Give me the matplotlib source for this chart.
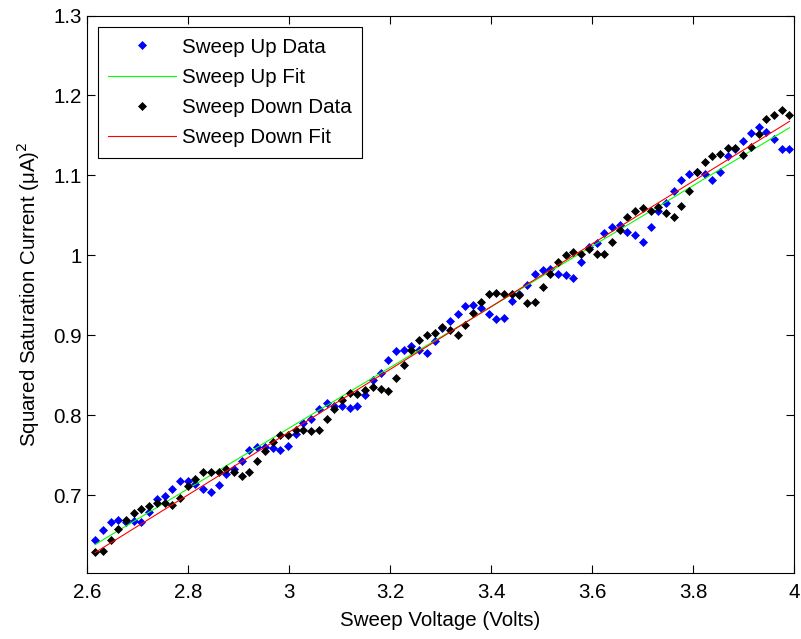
import numpy as np
import matplotlib
matplotlib.use("Agg")
import matplotlib.pyplot as plt
from matplotlib.ticker import FuncFormatter

# sweep voltage: evenly stepped sweep, same points going up and down
v_start = 2.616
v_stop = 3.991
n_points = 91
voltage = np.linspace(v_start, v_stop, n_points)

# squared saturation current (uA^2)
sweep_up = [
    0.644, 0.656, 0.666, 0.669, 0.666, 0.667, 0.666, 0.679, 0.695, 0.699,
    0.707, 0.717, 0.717, 0.714, 0.708, 0.704, 0.712, 0.726, 0.733, 0.742,
    0.756, 0.760, 0.760, 0.759, 0.757, 0.761, 0.777, 0.790, 0.795, 0.808,
    0.815, 0.811, 0.811, 0.809, 0.811, 0.825, 0.844, 0.853, 0.869, 0.880,
    0.882, 0.886, 0.882, 0.878, 0.893, 0.909, 0.918, 0.926, 0.936, 0.938,
    0.934, 0.926, 0.920, 0.922, 0.943, 0.952, 0.963, 0.977, 0.981, 0.983,
    0.977, 0.975, 0.972, 0.992, 1.011, 1.015, 1.028, 1.036, 1.038, 1.029,
    1.026, 1.017, 1.036, 1.055, 1.066, 1.080, 1.094, 1.102, 1.104, 1.102,
    1.094, 1.104, 1.124, 1.133, 1.143, 1.153, 1.160, 1.154, 1.145, 1.133,
    1.133,
]

sweep_down = [
    0.629, 0.630, 0.644, 0.657, 0.669, 0.678, 0.682, 0.686, 0.690, 0.690,
    0.687, 0.696, 0.711, 0.720, 0.729, 0.729, 0.729, 0.733, 0.729, 0.724,
    0.729, 0.743, 0.755, 0.767, 0.775, 0.775, 0.782, 0.782, 0.780, 0.781,
    0.795, 0.808, 0.819, 0.828, 0.827, 0.831, 0.835, 0.833, 0.830, 0.846,
    0.863, 0.882, 0.894, 0.900, 0.903, 0.910, 0.907, 0.900, 0.913, 0.928,
    0.942, 0.951, 0.953, 0.952, 0.952, 0.950, 0.940, 0.942, 0.960, 0.976,
    0.991, 1.000, 1.004, 1.001, 1.008, 1.001, 1.001, 1.017, 1.032, 1.048,
    1.056, 1.059, 1.055, 1.061, 1.053, 1.048, 1.062, 1.080, 1.104, 1.117,
    1.124, 1.127, 1.134, 1.134, 1.126, 1.136, 1.152, 1.170, 1.176, 1.182,
    1.176,
]

# linear fits (slope, intercept) as drawn
up_fit = (0.3793, -0.3542)
down_fit = (0.3924, -0.3985)

xticks = [2.6, 2.8, 3.0, 3.2, 3.4, 3.6, 3.8, 4.0]
yticks = [0.7, 0.8, 0.9, 1.0, 1.1, 1.2, 1.3]

plt.rcParams['font.family'] = ['Liberation Sans', 'DejaVu Sans']
fs = 14.8

fig = plt.figure(figsize=(8.01, 6.39), dpi=100)
ax = fig.add_axes([0.1086, 0.1033, 0.8827, 0.8724])

ax.plot(voltage, sweep_up, linestyle='none', marker='D', ms=3.8, mew=0.5,
        color=(0, 0, 1), label='Sweep Up Data')
ax.plot(voltage, np.polyval(up_fit, voltage), color=(0, 1, 0), lw=0.8,
        label='Sweep Up Fit')
ax.plot(voltage, sweep_down, linestyle='none', marker='D', ms=3.8, mew=0.5,
        color='black', label='Sweep Down Data')
ax.plot(voltage, np.polyval(down_fit, voltage), color=(1, 0, 0), lw=0.8,
        label='Sweep Down Fit')

ax.set_xlim(2.6, 4.0)
ax.set_ylim(0.6025, 1.3)
ax.set_xticks(xticks)
ax.set_yticks(yticks)
fmt = FuncFormatter(lambda v, p: '{:g}'.format(round(v, 2)))
ax.xaxis.set_major_formatter(fmt)
ax.yaxis.set_major_formatter(fmt)
ax.tick_params(direction='in', length=5.5, width=0.8, top=True, right=True,
               labelsize=fs, colors='black')
ax.tick_params(axis='x', pad=7)
ax.tick_params(axis='y', pad=4)
for s in ax.spines.values():
    s.set_linewidth(0.8)

ax.set_xlabel('Sweep Voltage (Volts)', fontsize=fs, labelpad=7)
ax.set_ylabel('Squared Saturation Current (μA)$^2$', fontsize=fs, labelpad=8)

leg = ax.legend(loc='upper left', bbox_to_anchor=(0.0156, 0.979),
                borderaxespad=0, fontsize=fs, handlelength=3.3,
                handletextpad=0.3, borderpad=0.5, labelspacing=0.55,
                fancybox=False, framealpha=1, edgecolor='black')
leg.get_frame().set_linewidth(0.8)

fig.savefig('out.png', dpi=100)
